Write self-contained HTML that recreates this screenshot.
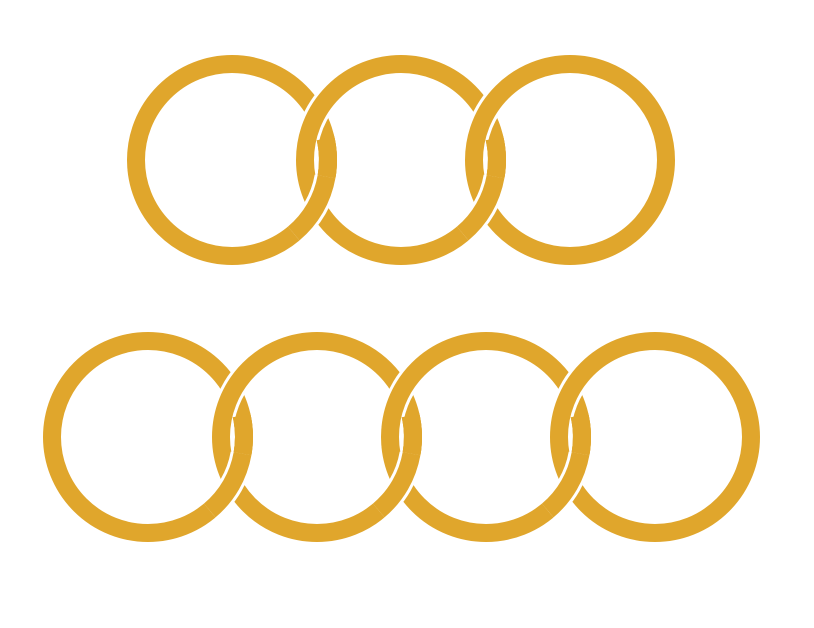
<!DOCTYPE html>
<html><head><meta charset="utf-8"><style>html,body{margin:0;padding:0;background:#fff}svg{display:block}</style></head>
<body>
<svg width="814" height="628" viewBox="0 0 814 628" xmlns="http://www.w3.org/2000/svg">
<defs>
<g id="r"><circle r="96" fill="none" stroke="#fff" stroke-width="24"/><circle r="96" fill="none" stroke="#E0A62C" stroke-width="18"/></g>
<g id="a">
<path d="M93.54,-21.6 A96,96 0 0 1 94.54,16.67" fill="none" stroke="#E0A62C" stroke-width="18"/>
<path d="M94.54,16.67 A96,96 0 0 1 61.7,73.5" fill="none" stroke="#fff" stroke-width="24"/>
<path d="M94.54,16.67 A96,96 0 0 1 61.7,73.5" fill="none" stroke="#E0A62C" stroke-width="18"/>
<path d="M93.54,-21.6 A96,96 0 0 1 94.54,16.67" fill="none" stroke="#E0A62C" stroke-width="18"/>
</g>
</defs>
<circle cx="232" cy="160" r="96" fill="none" stroke="#E0A62C" stroke-width="18"/>
<use href="#r" x="401" y="160"/>
<use href="#a" x="232" y="160"/>
<use href="#r" x="570" y="160"/>
<use href="#a" x="401" y="160"/>

<circle cx="148" cy="437" r="96" fill="none" stroke="#E0A62C" stroke-width="18"/>
<use href="#r" x="317" y="437"/>
<use href="#a" x="148" y="437"/>
<use href="#r" x="486" y="437"/>
<use href="#a" x="317" y="437"/>
<use href="#r" x="655" y="437"/>
<use href="#a" x="486" y="437"/>
</svg>
</body></html>
